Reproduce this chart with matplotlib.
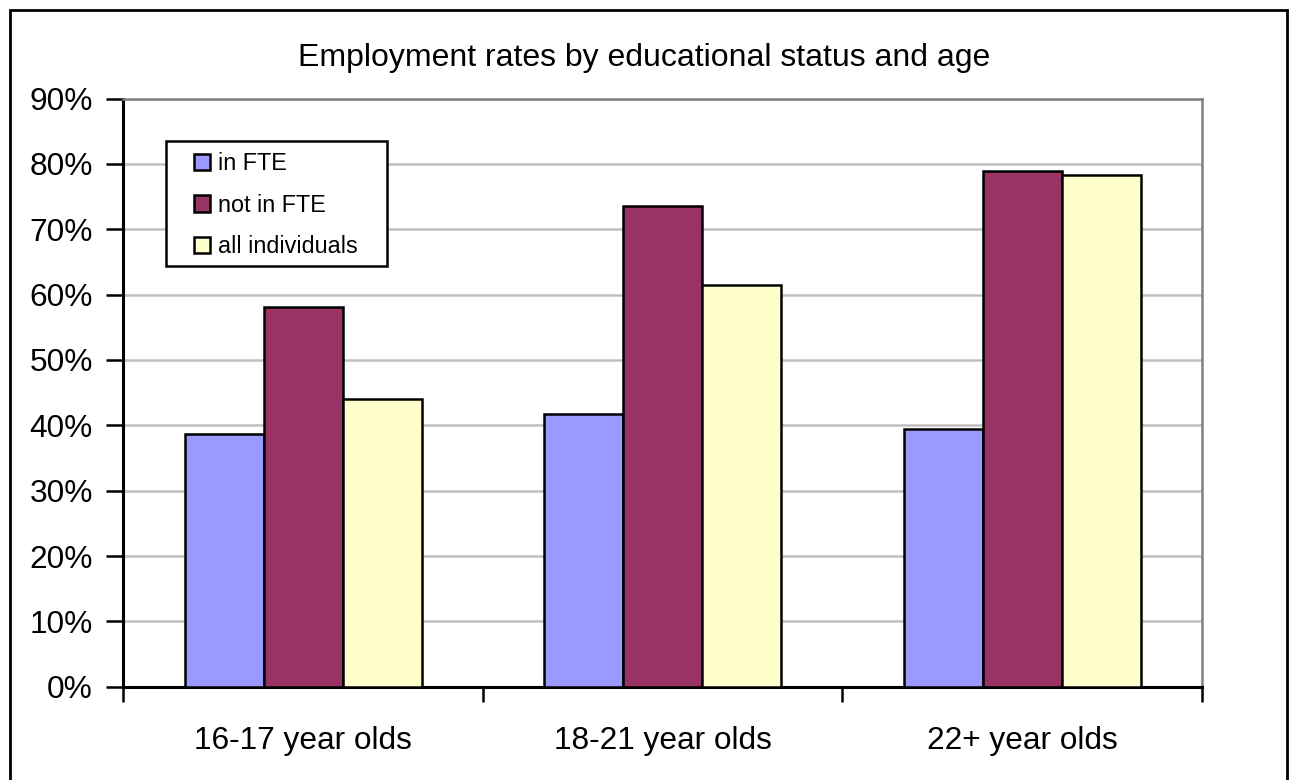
import numpy as np
import matplotlib.pyplot as plt
from matplotlib.patches import Rectangle
from matplotlib.ticker import PercentFormatter

plt.rcParams['font.family'] = ['Liberation Sans', 'DejaVu Sans']

categories = ['16-17 year olds', '18-21 year olds', '22+ year olds']
series = ['in FTE', 'not in FTE', 'all individuals']
in_fte = [38.6, 41.7, 39.4]
not_in_fte = [58.1, 73.5, 78.9]
all_individuals = [44.0, 61.5, 78.3]
colours = ['#9999ff', '#993366', '#ffffcc']

fig = plt.figure(figsize=(12.89, 7.80), dpi=100)
ax = fig.add_axes([0.0958, 0.1196, 0.8367, 0.7541])

x = np.arange(len(categories))
width = 0.22
for i, (vals, col, lab) in enumerate(zip([in_fte, not_in_fte, all_individuals], colours, series)):
    ax.bar(x + (i - 1) * width, vals, width, color=col, edgecolor='black', linewidth=1.8,
           label=lab, zorder=3)

ax.set_xlim(-0.5, 2.5)
ax.set_ylim(0, 90)
ax.set_yticks(np.arange(0, 91, 10))
ax.yaxis.set_major_formatter(PercentFormatter(decimals=0))
ax.grid(axis='y', color='#c0c0c0', linewidth=1.8, zorder=0)
ax.tick_params(axis='y', direction='out', length=12, width=1.8, labelsize=22.8, pad=10)

# category boundaries as ticks, labels at centres
ax.set_xticks([-0.5, 0.5, 1.5, 2.5])
ax.set_xticklabels([])
ax.set_xticks(x, minor=True)
ax.set_xticklabels(categories, minor=True)
ax.tick_params(axis='x', which='major', direction='out', length=11, width=1.8)
ax.tick_params(axis='x', which='minor', length=0, labelsize=22.8, pad=28)

for s in ['left', 'bottom']:
    ax.spines[s].set_linewidth(2.2)
    ax.spines[s].set_color('black')
for s in ['top', 'right']:
    ax.spines[s].set_linewidth(1.8)
    ax.spines[s].set_color('#808080')

fig.text(0.5, 0.9154, 'Employment rates by educational status and age', ha='center', va='baseline',
         fontsize=23)

# legend without its own frame; box drawn separately for wider side padding
leg = ax.legend(loc='upper left', bbox_to_anchor=(0.065, 0.909), fontsize=16.8, frameon=False,
                handlelength=0.7, handleheight=0.7, handletextpad=0.35, labelspacing=0.8,
                borderpad=0, borderaxespad=0)
ax.add_patch(Rectangle((0.0394, 0.7152), 0.205, 0.2125, transform=ax.transAxes, fill=True,
                       facecolor='white', edgecolor='black', linewidth=1.8, zorder=4))
leg.set_zorder(5)

fig.patches.append(Rectangle((10 / 1289, -10 / 780), 1277 / 1289, 780 / 780, transform=fig.transFigure,
                             fill=False, edgecolor='black', linewidth=2))

fig.savefig('out.png', dpi=100)
